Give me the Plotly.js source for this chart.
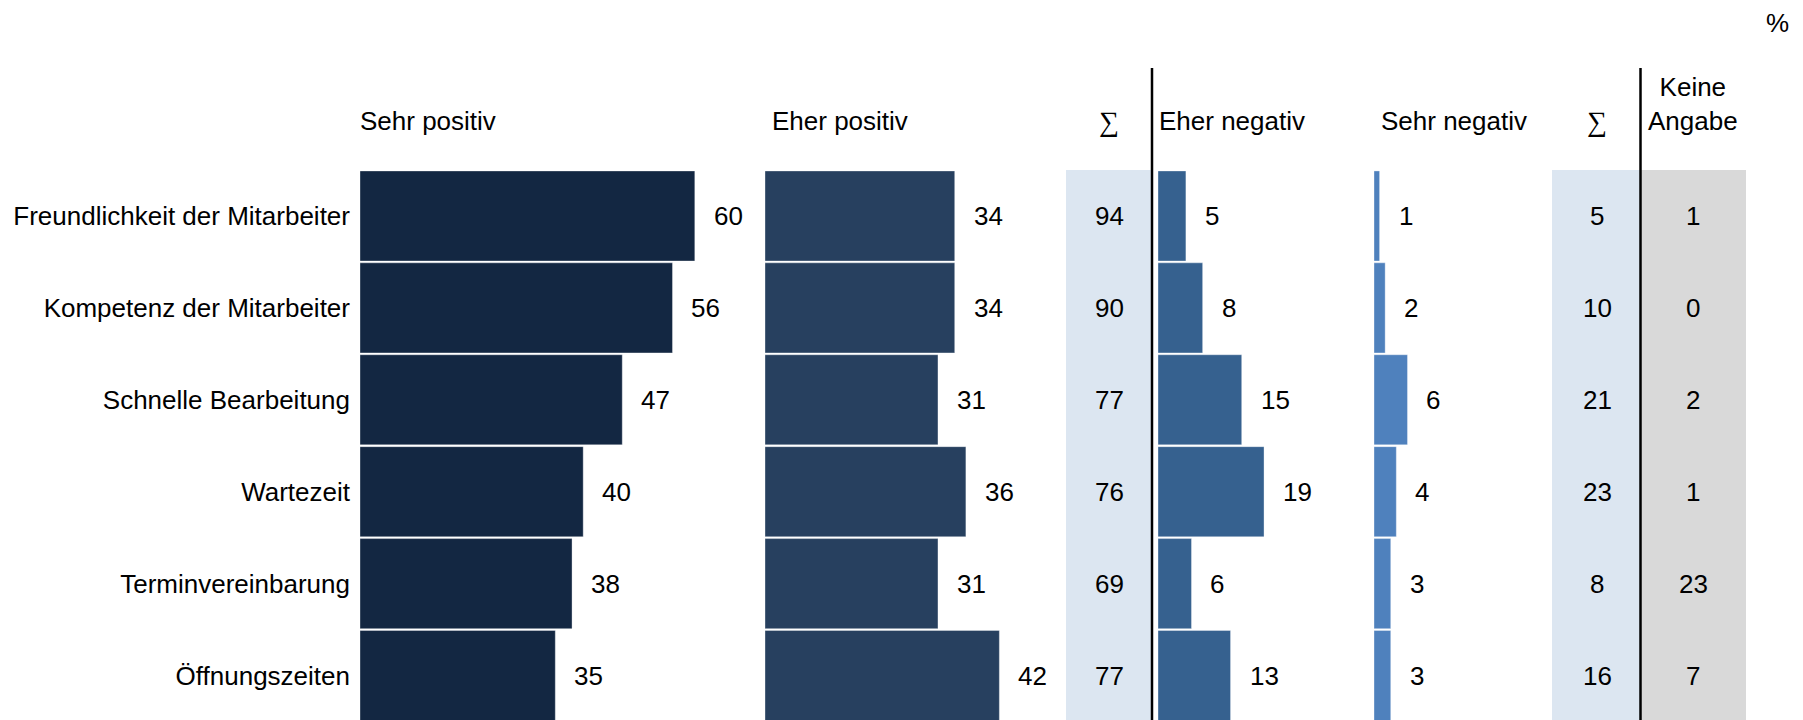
<!DOCTYPE html>
<html>
<head>
<meta charset="utf-8">
<script src="https://cdn.plot.ly/plotly-3.0.1.min.js"></script>
<style>
  html, body { margin: 0; padding: 0; background: #ffffff; }
  #chart { width: 1803px; height: 720px; }
</style>
</head>
<body>
<div id="chart"></div>
<script>
// ---- Data ----
const categories = [
  "Freundlichkeit der Mitarbeiter",
  "Kompetenz der Mitarbeiter",
  "Schnelle Bearbeitung",
  "Wartezeit",
  "Terminvereinbarung",
  "Öffnungszeiten"
];
const sehrPositiv = [60, 56, 47, 40, 38, 35];
const eherPositiv = [34, 34, 31, 36, 31, 42];
const sumPositiv  = [94, 90, 77, 76, 69, 77];
const eherNegativ = [5, 8, 15, 19, 6, 13];
const sehrNegativ = [1, 2, 6, 4, 3, 3];
const sumNegativ  = [5, 10, 21, 23, 8, 16];
const keineAngabe = [1, 0, 2, 1, 23, 7];

const headers = {
  sehrPositiv: "Sehr positiv",
  eherPositiv: "Eher positiv",
  sum: "\u2211",
  eherNegativ: "Eher negativ",
  sehrNegativ: "Sehr negativ",
  keine: "Keine<br>Angabe",
  unit: "%"
};

// ---- Layout geometry (pixels) ----
const W = 1803, H = 720;
const k = 5.58;             // px per percentage point
const px = v => v / W;
const py = v => 1 - v / H;
const FONT = "Liberation Sans, Arial, sans-serif";
const FS = 26;

const panels = [
  {axis: "x",  name: "xaxis",  left: 360,  right: 765,  data: sehrPositiv, color: "#132742"},
  {axis: "x2", name: "xaxis2", left: 765,  right: 1066, data: eherPositiv, color: "#27405f"},
  {axis: "x3", name: "xaxis3", left: 1158, right: 1374, data: eherNegativ, color: "#36618f"},
  {axis: "x4", name: "xaxis4", left: 1374, right: 1552, data: sehrNegativ, color: "#4f81bd"}
];

const traces = panels.map(p => ({
  type: "bar",
  orientation: "h",
  x: p.data,
  y: categories,
  xaxis: p.axis,
  yaxis: "y",
  width: 0.98,
  marker: {color: p.color, line: {color: "rgba(255,255,255,0.35)", width: 1}},
  hoverinfo: "x+y",
  showlegend: false
}));

const layout = {
  width: W, height: H,
  margin: {l: 0, r: 0, t: 0, b: 0},
  paper_bgcolor: "#ffffff",
  plot_bgcolor: "rgba(0,0,0,0)",
  font: {family: FONT, size: FS, color: "#000000"},
  showlegend: false,
  bargap: 0,
  yaxis: {
    type: "category",
    anchor: "x",
    range: [5.484, -2.35],
    showgrid: false, zeroline: false, showline: false,
    ticks: "", ticklabelstandoff: 9,
    tickfont: {family: FONT, size: FS, color: "#000000"},
    fixedrange: true
  },
  shapes: [],
  annotations: []
};

panels.forEach(p => {
  layout[p.name] = {
    domain: [px(p.left), px(p.right)],
    range: [0, (p.right - p.left) / k],
    anchor: "y",
    visible: false,
    fixedrange: true
  };
  p.data.forEach((v, i) => {
    layout.annotations.push({
      x: v, y: categories[i], xref: p.axis, yref: "y",
      text: String(v), showarrow: false,
      xanchor: "left", yanchor: "middle", xshift: 17,
      font: {family: FONT, size: FS, color: "#000000"}
    });
  });
});

// Background columns
const bgTop = py(170);
const columns = [
  {x0: 1066, x1: 1152, color: "#dce6f1", center: 1109, data: sumPositiv},
  {x0: 1552, x1: 1640, color: "#dce6f1", center: 1597, data: sumNegativ},
  {x0: 1640, x1: 1746, color: "#d9d9d9", center: 1693, data: keineAngabe}
];
columns.forEach(c => {
  layout.shapes.push({
    type: "rect", xref: "paper", yref: "paper", layer: "below",
    x0: px(c.x0), x1: px(c.x1), y0: 0, y1: bgTop,
    fillcolor: c.color, line: {width: 0}
  });
  c.data.forEach((v, i) => {
    layout.annotations.push({
      x: px(c.center), y: categories[i], xref: "paper", yref: "y",
      text: String(v), showarrow: false,
      xanchor: "center", yanchor: "middle",
      font: {family: FONT, size: FS, color: "#000000"}
    });
  });
});

// Vertical separators
[1152, 1640.5].forEach(xp => {
  layout.shapes.push({
    type: "line", xref: "paper", yref: "paper", layer: "above",
    x0: px(xp), x1: px(xp), y0: 0, y1: py(68),
    line: {color: "#000000", width: 2.5}
  });
});

// Headers
const headerY = py(121);
const headerList = [
  {text: headers.sehrPositiv, x: 358, anchor: "left"},
  {text: headers.eherPositiv, x: 770, anchor: "left"},
  {text: headers.sum,         x: 1109, anchor: "center", serif: true},
  {text: headers.eherNegativ, x: 1157, anchor: "left"},
  {text: headers.sehrNegativ, x: 1379, anchor: "left"},
  {text: headers.sum,         x: 1597, anchor: "center", serif: true}
];
headerList.forEach(h => {
  layout.annotations.push({
    x: px(h.x), y: headerY, xref: "paper", yref: "paper",
    text: h.text, showarrow: false,
    xanchor: h.anchor, yanchor: "middle",
    font: {family: h.serif ? "Liberation Serif, Times New Roman, serif" : FONT,
           size: h.serif ? 28 : FS, color: "#000000"}
  });
});
layout.annotations.push({
  x: px(1693), y: py(104), xref: "paper", yref: "paper",
  text: headers.keine, showarrow: false,
  xanchor: "center", yanchor: "middle", align: "center",
  font: {family: FONT, size: FS, color: "#000000"}
});
layout.annotations.push({
  x: px(1777), y: py(23), xref: "paper", yref: "paper",
  text: headers.unit, showarrow: false,
  xanchor: "center", yanchor: "middle",
  font: {family: FONT, size: FS, color: "#000000"}
});

Plotly.newPlot("chart", traces, layout, {displayModeBar: false, staticPlot: true});
</script>
</body>
</html>
